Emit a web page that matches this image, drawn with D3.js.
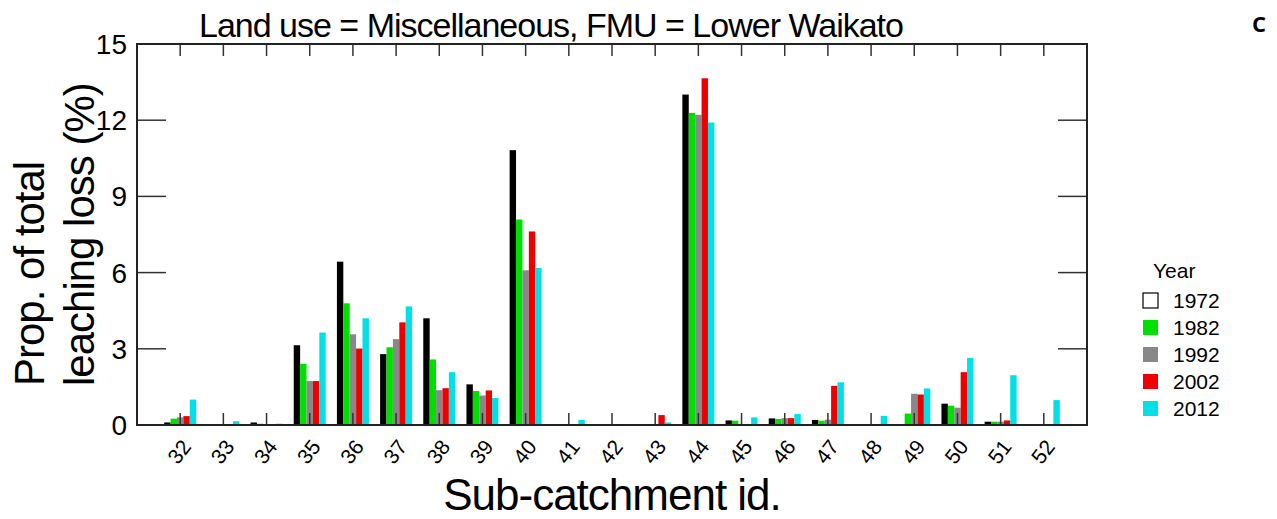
<!DOCTYPE html>
<html><head><meta charset="utf-8">
<script src="https://cdn.jsdelivr.net/npm/d3@7"></script>
<style>body{margin:0;background:#fff;} text{font-family:"Liberation Sans",Arial,sans-serif;}</style>
</head><body>
<svg id="c" width="1277" height="519"></svg>
<script>
const categories = ["32","33","34","35","36","37","38","39","40","41","42","43","44","45","46","47","48","49","50","51","52"];
const years = ["1972","1982","1992","2002","2012"];
const v1972 = [0.10,0.02,0.10,3.14,6.43,2.79,4.20,1.60,10.82,0.02,0.02,0.02,13.01,0.18,0.26,0.20,0.02,0.00,0.84,0.13,0.02];
const v1982 = [0.25,0.02,0.05,2.41,4.79,3.06,2.58,1.34,8.09,0.02,0.02,0.02,12.29,0.17,0.24,0.17,0.03,0.45,0.76,0.13,0.02];
const v1992 = [0.30,0.02,0.03,1.73,3.57,3.38,1.37,1.16,6.09,0.02,0.02,0.02,12.21,0.02,0.27,0.21,0.02,1.23,0.68,0.13,0.02];
const v2002 = [0.35,0.02,0.03,1.73,3.01,4.04,1.45,1.36,7.62,0.02,0.02,0.39,13.65,0.03,0.27,1.54,0.03,1.20,2.08,0.18,0.03];
const v2012 = [1.00,0.15,0.05,3.64,4.20,4.67,2.08,1.06,6.18,0.20,0.03,0.10,11.91,0.30,0.43,1.68,0.36,1.44,2.64,1.96,0.98];
const series = [v1972, v1982, v1992, v2002, v2012];
const colors = ["#000000","#00e000","#888888","#ee0000","#00e0e6"];
const legendFill = ["#ffffff","#00e000","#888888","#ee0000","#00e0e6"];
const yTicks = [0,3,6,9,12,15];
const title = "Land use = Miscellaneous, FMU = Lower Waikato";

const svg = d3.select("#c");
const L = 137, R = 1087, T = 44, B = 425;
const x = d3.scalePoint().domain(["31"].concat(categories, ["53"])).range([L, R]);
const y = d3.scaleLinear().domain([0, 15]).range([B, T]);
const inner = d3.scaleBand().domain(years).range([-16, 16]);

// bars
categories.forEach((c, i) => {
  const cx = x(c);
  series.forEach((s, k) => {
    const v = s[i];
    svg.append("rect")
      .attr("x", cx + inner(years[k]))
      .attr("y", y(v))
      .attr("width", inner.bandwidth())
      .attr("height", Math.max(0, y(0) - y(v)))
      .attr("fill", colors[k]);
  });
});

// category ticks (inward, top and bottom)
const g = svg.append("g").attr("stroke", "#333").attr("stroke-width", 1.5);
categories.forEach(c => {
  const cx = x(c);
  g.append("line").attr("x1", cx).attr("x2", cx).attr("y1", B).attr("y2", B - 12);
  g.append("line").attr("x1", cx).attr("x2", cx).attr("y1", T).attr("y2", T + 12);
});
// y ticks inward, left and right
yTicks.forEach(t => {
  g.append("line").attr("x1", L).attr("x2", L + 29).attr("y1", y(t)).attr("y2", y(t));
  g.append("line").attr("x1", R).attr("x2", R - 29).attr("y1", y(t)).attr("y2", y(t));
});
// frame
svg.append("rect").attr("x", L).attr("y", T).attr("width", R - L).attr("height", B - T)
  .attr("fill", "none").attr("stroke", "#222").attr("stroke-width", 2);

// y tick labels
svg.selectAll(".yl").data(yTicks).enter().append("text")
  .attr("x", 127).attr("y", d => y(d) + 10).attr("text-anchor", "end")
  .attr("font-size", 28).text(d => d);

// x labels
categories.forEach(c => {
  const cx = x(c);
  svg.append("text").attr("transform", `translate(${cx + 12},${447}) rotate(-52)`)
    .attr("text-anchor", "end").attr("font-size", 21).text(c);
});

// title
svg.append("text").attr("x", 551).attr("y", 37).attr("text-anchor", "middle")
  .attr("font-size", 34).attr("letter-spacing", -1).text(title);
// y label
svg.append("text").attr("transform", "translate(44,386) rotate(-90)").attr("font-size", 42).attr("letter-spacing", -1).text("Prop. of total");
svg.append("text").attr("transform", "translate(94,386) rotate(-90)").attr("font-size", 42).attr("letter-spacing", -1).text("leaching loss (%)");
// x label
svg.append("text").attr("x", 612).attr("y", 510).attr("text-anchor", "middle").attr("font-size", 44).attr("letter-spacing", -1).text("Sub-catchment id.");

// legend
svg.append("text").attr("x", 1153).attr("y", 278).attr("font-size", 21).text("Year");
years.forEach((yr, k) => {
  const yy = 300 + k * 27;
  svg.append("rect").attr("x", 1143).attr("y", yy - 7).attr("width", 15).attr("height", 15)
    .attr("fill", legendFill[k]).attr("stroke", k === 0 ? "#000" : "none").attr("stroke-width", 1.2);
  svg.append("text").attr("x", 1173).attr("y", yy + 8).attr("font-size", 21).text(yr);
});

svg.append("text").attr("x", 1259).attr("y", 32).attr("text-anchor", "middle")
  .attr("font-size", 22).attr("font-weight", "bold").style("font-family", "'Open Sans',sans-serif").text("C");
</script>
</body></html>
